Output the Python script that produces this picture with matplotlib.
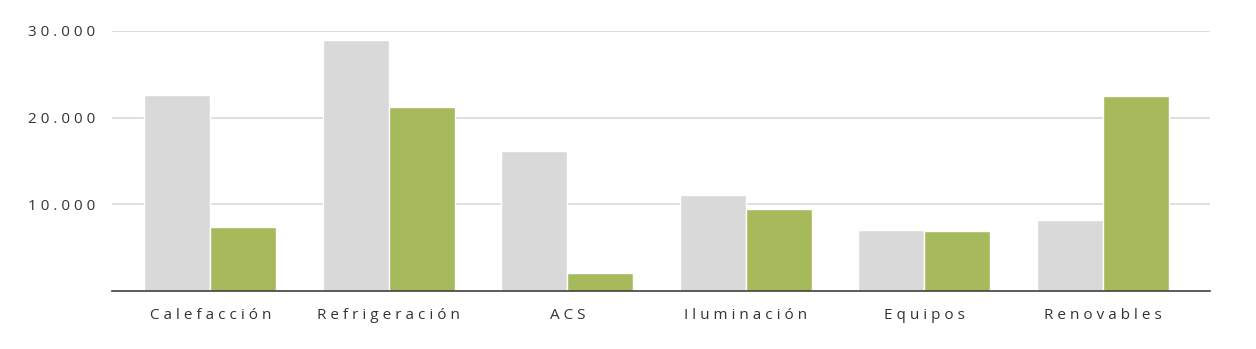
import matplotlib
matplotlib.use("Agg")
import matplotlib.pyplot as plt
import numpy as np

categories = ["Calefacción", "Refrigeración", "ACS", "Iluminación", "Equipos", "Renovables"]
series_gray = [22600, 28950, 16150, 11070, 7040, 8190]
series_green = [7380, 21220, 2080, 9460, 6980, 22490]
yticks = [10000, 20000, 30000]
ytick_labels = ["10.000", "20.000", "30.000"]

def spaced(s, sep=" "):
    return sep.join(list(s))

plt.rcParams['font.family'] = ['Open Sans', 'DejaVu Sans']

fig = plt.figure(figsize=(12.56, 3.49), dpi=100)
ax = fig.add_axes([112/1256, 1 - 291/349, (1210-112)/1256, (291-31)/349])
ax.set_ylim(0, 30000)

x = np.arange(len(categories))
w = 0.37
ax.bar(x - w/2, series_gray, width=w, color="#d9d9d9", edgecolor="white", linewidth=1, zorder=3)
ax.bar(x + w/2, series_green, width=w, color="#a6b95b", edgecolor="white", linewidth=1, zorder=3)

ax.set_xlim(-0.55, 5.6)
ax.set_yticks(yticks)
ax.set_yticklabels([spaced(t) for t in ytick_labels], color="#333333", fontsize=11)
ax.set_xticks(x)
ax.set_xticklabels([spaced(c) for c in categories], color="#333333", fontsize=11)
ax.tick_params(axis="both", length=0)
ax.tick_params(axis="y", pad=12)
ax.tick_params(axis="x", pad=12)
ax.grid(axis="y", color="#d9d9d9", linewidth=1.2, zorder=0)
for s in ["top", "right", "left"]:
    ax.spines[s].set_visible(False)
ax.spines["bottom"].set_color("#404040")
ax.spines["bottom"].set_linewidth(1.2)
ax.spines["bottom"].set_zorder(4)

fig.savefig("out.png", dpi=100)
